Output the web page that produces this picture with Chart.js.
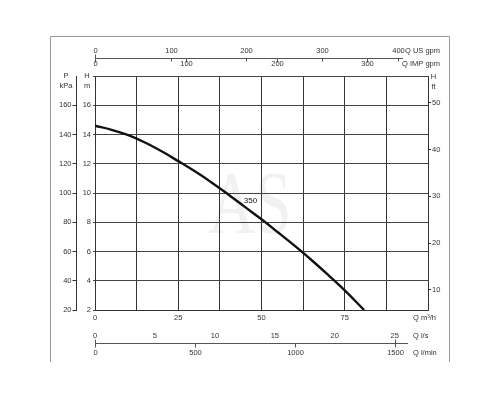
<!DOCTYPE html>
<html>
<head>
<meta charset="utf-8">
<script src="https://cdn.jsdelivr.net/npm/chart.js@4.4.0/dist/chart.umd.min.js"></script>
<style>
  html, body { margin: 0; padding: 0; background: #fff; }
  #wrap { width: 500px; height: 400px; }
</style>
</head>
<body>
<div id="wrap"><canvas id="pumpChart" width="500" height="400"></canvas></div>
<script>
// pump curve (Q in m3/h, H in m)
const flowM3h = [0, 5, 10, 15, 20, 25, 30, 35, 40, 45, 50, 55, 60, 65, 70, 75, 80.8];
const headM   = [14.6, 14.32, 13.95, 13.45, 12.85, 12.18, 11.48, 10.72, 9.9, 9.05, 8.2, 7.3, 6.38, 5.42, 4.4, 3.34, 2.0];
const curveLabel = '350';

// secondary axes tick labels
const usGpmTicks  = [0, 100, 200, 300, 400];
const impGpmTicks = [0, 100, 200, 300];
const lsTicks     = [0, 5, 10, 15, 20, 25];
const lminTicks   = [0, 500, 1000, 1500];
const ftTicks     = [10, 20, 30, 40, 50];

// conversions from m3/h
const M3H_TO_USGPM  = 4.40287;
const M3H_TO_IMPGPM = 3.66615;
const M3H_TO_LS     = 0.277778;
const M3H_TO_LMIN   = 16.6667;

const TXT = '#333';
const FONT = '"Liberation Sans", Arial, sans-serif';
Chart.defaults.font.family = FONT;
Chart.defaults.font.size = 7.5;
Chart.defaults.color = TXT;

// ============================
// extra drawing: frame, watermark, top/bottom unit axes, titles
// ============================
const extras = {
  id: 'extras',
  beforeDraw(chart) {
    const ctx = chart.ctx;
    const x = chart.scales.x, y = chart.scales.y;
    ctx.save();
    ctx.fillStyle = '#f1f1f1';
    ctx.font = '88px "Liberation Serif", serif';
    ctx.textAlign = 'center';
    ctx.textBaseline = 'alphabetic';
    ctx.translate(x.getPixelForValue(46.5), y.getPixelForValue(7.3));
    ctx.scale(0.74, 1);
    ctx.fillText('AS', 0, 0);
    ctx.restore();
  },
  afterDraw(chart) {
    const ctx = chart.ctx;
    const x = chart.scales.x, y = chart.scales.y;
    ctx.save();

    // outer frame (open at the bottom)
    ctx.strokeStyle = '#9a9a9a';
    ctx.lineWidth = 1;
    ctx.beginPath();
    ctx.moveTo(50.5, 362);
    ctx.lineTo(50.5, 36.5);
    ctx.lineTo(449.5, 36.5);
    ctx.lineTo(449.5, 362);
    ctx.stroke();

    ctx.font = '7.5px ' + FONT;
    ctx.fillStyle = TXT;
    ctx.textBaseline = 'middle';
    ctx.strokeStyle = '#555';

    const seg = (x1, y1, x2, y2) => {
      ctx.beginPath(); ctx.moveTo(x1, y1); ctx.lineTo(x2, y2); ctx.stroke();
    };
    const snap = v => Math.round(v) + 0.5;

    // top axis: US gpm above, IMP gpm below
    const topY = 58.5;
    seg(x.getPixelForValue(0), topY, x.getPixelForValue(92.5), topY);
    ctx.textAlign = 'center';
    usGpmTicks.forEach(v => {
      const px = snap(x.getPixelForValue(v / M3H_TO_USGPM));
      seg(px, v === 0 ? topY - 4 : topY, px, topY + 3);
      ctx.fillText(String(v), px, 51);
    });
    impGpmTicks.forEach(v => {
      const px = snap(x.getPixelForValue(v / M3H_TO_IMPGPM));
      seg(px, topY, px, topY + 4);
      ctx.fillText(String(v), px, 64);
    });
    ctx.textAlign = 'right';
    ctx.fillText('Q US gpm', 440, 51);
    ctx.fillText('Q IMP gpm', 440, 64);

    // bottom axis: l/s above, l/min below
    const botY = 343.5;
    seg(x.getPixelForValue(0), botY, x.getPixelForValue(94), botY);
    ctx.textAlign = 'center';
    lsTicks.forEach(v => {
      const px = x.getPixelForValue(v / M3H_TO_LS);
      ctx.fillText(String(v), px, 336);
    });
    lminTicks.forEach(v => {
      const px = snap(x.getPixelForValue(v / M3H_TO_LMIN));
      seg(px, (v === 0 || v === 1500) ? botY - 4 : botY, px, botY + 4);
      ctx.fillText(String(v), px, 353);
    });
    ctx.textAlign = 'left';
    ctx.fillText('Q m\u00b3/h', 413, 317.5);
    ctx.fillText('Q l/s', 413, 336);
    ctx.fillText('Q l/min', 413, 353);

    // axis titles
    ctx.textAlign = 'center';
    ctx.fillText('P', 66, 75.5);
    ctx.fillText('kPa', 66, 85.5);
    ctx.fillText('H', 87, 75.5);
    ctx.fillText('m', 87, 85.5);
    ctx.fillText('H', 433.5, 76.5);
    ctx.fillText('ft', 433.5, 86.5);

    // curve label
    ctx.fillStyle = '#111';
    ctx.font = '8px "Liberation Sans Narrow", ' + FONT;
    ctx.fillText(curveLabel, x.getPixelForValue(46.7), y.getPixelForValue(9.5));

    ctx.restore();
  }
};

const curvePoints = flowM3h.map((q, i) => ({ x: q, y: headM[i] }));

new Chart(document.getElementById('pumpChart'), {
  type: 'line',
  data: {
    datasets: [{
      label: curveLabel,
      data: curvePoints,
      borderColor: '#111',
      borderWidth: 2.4,
      pointRadius: 0,
      fill: false,
      tension: 0.4
    }]
  },
  options: {
    responsive: false,
    maintainAspectRatio: false,
    animation: false,
    layout: { padding: { left: 50, right: 51, top: 76, bottom: 76 } },
    plugins: { legend: { display: false }, tooltip: { enabled: false } },
    scales: {
      x: {
        type: 'linear', min: 0, max: 100, position: 'bottom',
        ticks: {
          stepSize: 12.5, autoSkip: false, maxRotation: 0, padding: 3,
          callback: v => (v % 25 === 0 && v < 100) ? v : ''
        },
        grid: { color: '#333', drawTicks: false },
        border: { color: '#333' },
        afterFit: s => { s.height = 14; }
      },
      y: {
        type: 'linear', min: 2, max: 18, position: 'left', weight: 0,
        ticks: { stepSize: 2, padding: 2, callback: v => v < 18 ? v : '' },
        grid: { color: '#444', tickLength: 2 },
        border: { color: '#333' },
        afterFit: s => { s.width = 18.5; }
      },
      kpa: {
        type: 'linear', min: 20, max: 180, position: 'left', weight: 1,
        ticks: { stepSize: 20, padding: 1, callback: v => v < 180 ? v : '' },
        grid: {
          drawOnChartArea: false, tickLength: 4,
          tickColor: c => (c.tick && c.tick.value === 180) ? 'rgba(0,0,0,0)' : '#333'
        },
        border: { color: '#333' },
        afterFit: s => { s.width = 26.5; }
      },
      ft: {
        type: 'linear', min: 5.7, max: 55.7, position: 'right',
        ticks: { padding: 1 },
        afterBuildTicks: s => { s.ticks = ftTicks.map(v => ({ value: v })); },
        grid: { drawOnChartArea: false, tickLength: 3, color: '#333' },
        border: { color: '#333' },
        afterFit: s => { s.width = 21; }
      }
    }
  },
  plugins: [extras]
});
</script>
</body>
</html>
